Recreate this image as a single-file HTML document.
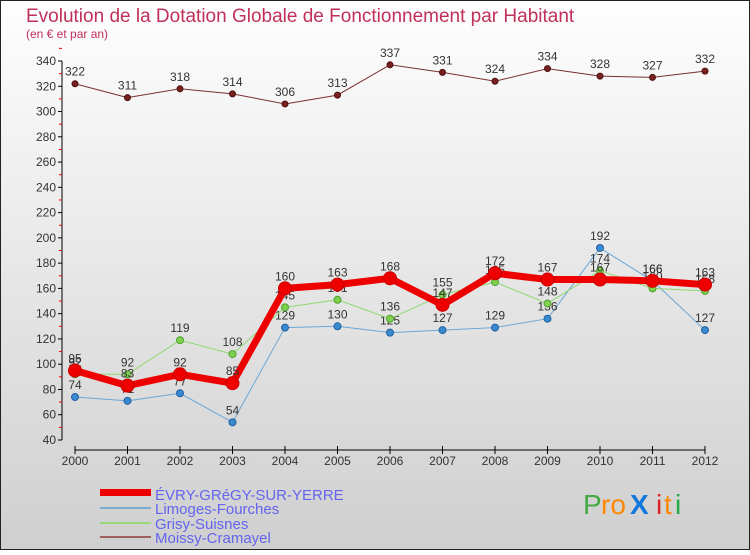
<!DOCTYPE html>
<html><head><meta charset="utf-8"><style>
body{margin:0;width:750px;height:550px;overflow:hidden;font-family:"Liberation Sans",sans-serif}
</style></head><body>
<svg id="c" width="750" height="550" xmlns="http://www.w3.org/2000/svg">
<defs><linearGradient id="bg" x1="0" y1="0" x2="0" y2="1"><stop offset="0" stop-color="#fefefe"/><stop offset="1" stop-color="#cfcfcf"/></linearGradient></defs>
<rect x="0.5" y="0.5" width="749" height="549" fill="url(#bg)" stroke="#222"/>
<text x="26" y="22" font-size="19" fill="#c0305a">Evolution de la Dotation Globale de Fonctionnement par Habitant</text>
<text x="26" y="38" font-size="12" fill="#c0305a">(en € et par an)</text>
<g id="axes"></g><g id="series"></g>
<g>
<rect x="100" y="489" width="51" height="7" fill="#e00"/>
<text x="155" y="500" font-size="15" fill="#6464f0">ÉVRY-GRéGY-SUR-YERRE</text>
<rect x="100" y="507" width="51" height="2" fill="#7aaed0"/>
<text x="155" y="514" font-size="15" fill="#6464f0">Limoges-Fourches</text>
<rect x="100" y="522" width="51" height="2" fill="#98d878"/>
<text x="155" y="529" font-size="15" fill="#6464f0">Grisy-Suisnes</text>
<rect x="100" y="536" width="51" height="2" fill="#a06060"/>
<text x="155" y="543" font-size="15" fill="#6464f0">Moissy-Cramayel</text>
</g>
<g font-size="28">
<text x="583" y="514" fill="#44aa44">P</text><text x="601" y="514" fill="#ff8800">ro</text><text x="630" y="514" fill="#1177dd" font-weight="bold">X</text><text x="656" y="514" fill="#dd2222">i</text><text x="664" y="514" fill="#ff8800">t</text><text x="675" y="514" fill="#22aa44">i</text>
</g>
</svg>
<script>
const years=[2000,2001,2002,2003,2004,2005,2006,2007,2008,2009,2010,2011,2012];
const yTicks=[40,60,80,100,120,140,160,180,200,220,240,260,280,300,320,340];
const evry=[95,83,92,85,160,163,168,147,172,167,167,166,163];
const limoges=[74,71,77,54,129,130,125,127,129,136,192,166,127];
const grisy=[92,92,119,108,145,151,136,155,165,148,174,160,158];
const moissy=[322,311,318,314,306,313,337,331,324,334,328,327,332];
const NS="http://www.w3.org/2000/svg";
const X=i=>75+i*52.5;
const Y=v=>440-(v-40)*(379/300);
function mk(t,a,p){const e=document.createElementNS(NS,t);for(const k in a)e.setAttribute(k,a[k]);p.appendChild(e);return e;}
const ax=document.getElementById('axes');
let yl=mk('line',{x1:62,y1:Y(340),x2:62,y2:Y(40),stroke:'#000'},ax);


yTicks.forEach(v=>{
 mk('line',{x1:58,x2:62,y1:Y(v),y2:Y(v),stroke:'#000'},ax);
 mk('line',{x1:59,x2:62,y1:Y(v+10),y2:Y(v+10),stroke:'#e00'},ax);
 const t=mk('text',{x:56,y:Y(v)+4,'font-size':12,fill:'#333','text-anchor':'end'},ax);t.textContent=v;
 
 
});
let xl=mk('line',{x1:X(0),y1:450,x2:X(12),y2:450,stroke:'#000'},ax);


years.forEach((y,i)=>{
 mk('line',{x1:X(i),x2:X(i),y1:446,y2:454,stroke:'#000'},ax);
 const t=mk('text',{x:X(i),y:465,'font-size':12,fill:'#333','text-anchor':'middle'},ax);t.textContent=y;
 
 
});
const sg=document.getElementById('series');
function draw(data,name,color,lw,r,dot,dotStroke){
 const g=mk('g',{},sg);
 
 
 const pl=mk('polyline',{points:data.map((v,i)=>X(i)+','+Y(v)).join(' '),fill:'none',stroke:color,'stroke-width':lw},g);
 
 
 data.forEach((v,i)=>{
  const c=mk('circle',{cx:X(i),cy:Y(v),r:r,fill:dot,stroke:dotStroke,'stroke-width':1},g);
  
  
  const t=mk('text',{x:X(i),y:Y(v)-8,'font-size':12,fill:'#333','text-anchor':'middle'},g);t.textContent=v;
  
  
 });
}
draw(moissy,'moissy','#7a3030',1,3,'#7a2020','#4a1010');
draw(limoges,'limoges','#6aa6d6',1,3.5,'#3a8ad0','#2060a0');
draw(grisy,'grisy','#90d870',1,3.5,'#80d050','#50a030');
draw(evry,'evry','#ee0000',7,6.5,'#ee0000','#cc0000');
</script>
</body></html>
